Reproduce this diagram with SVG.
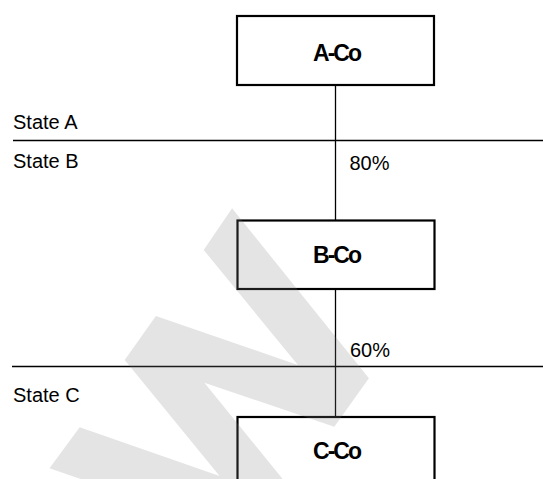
<svg xmlns="http://www.w3.org/2000/svg" width="543" height="479" viewBox="0 0 543 479">
  <style>
    .box { fill: #ffffff; stroke: #000000; stroke-width: 2.2; }
    .name { font-family: "Liberation Sans", Arial, sans-serif; font-size: 23px; font-weight: bold; letter-spacing: -2px; text-anchor: middle; fill: #000000; }
    .label { font-family: "Liberation Sans", Arial, sans-serif; font-size: 20px; fill: #000000; }
    .link { stroke: #000000; stroke-width: 1.3; fill: none; }
    .divider { stroke: #000000; stroke-width: 1.6; fill: none; }
  </style>

  <rect width="543" height="479" fill="#ffffff"/>

  <!-- state dividers and their labels -->
  <g id="states">
    <line class="divider" x1="13" y1="140.5" x2="543" y2="140.5"/>
    <line class="divider" x1="12" y1="366.5" x2="543" y2="366.5"/>
    <text class="label" x="13" y="128.5">State A</text>
    <text class="label" x="13" y="168.3">State B</text>
    <text class="label" x="13" y="401.7">State C</text>
  </g>

  <!-- ownership connectors -->
  <g id="connectors">
    <line class="link" x1="335.5" y1="85" x2="335.5" y2="220"/>
    <line class="link" x1="335.5" y1="289" x2="335.5" y2="417"/>
    <text class="label" x="349.5" y="170">80%</text>
    <text class="label" x="350" y="356.7">60%</text>
  </g>

  <g id="node-a">
    <rect class="box" x="237" y="16" width="197" height="69"/>
    <text class="name" x="336.5" y="61">A-Co</text>
  </g>

  <g id="node-b">
    <rect class="box" x="237.5" y="220.5" width="197" height="68.5"/>
    <text class="name" x="336.5" y="263.3">B-Co</text>
  </g>

  <g id="node-c">
    <rect class="box" x="237.5" y="417" width="197" height="69"/>
    <text class="name" x="336.5" y="459">C-Co</text>
  </g>

  <!-- translucent zigzag mark laid over the lower half -->
  <path fill="#808080" fill-opacity="0.21"
        d="M232.1,208.3 L368.9,378.3 L334.3,426.7 L204.4,382.7 L316,520 L200,520 L49.5,468.3
           L79.7,427.3 L219.6,476 L124.7,360 L155.9,316 L297.9,365 L203.7,250 Z"/>
</svg>
